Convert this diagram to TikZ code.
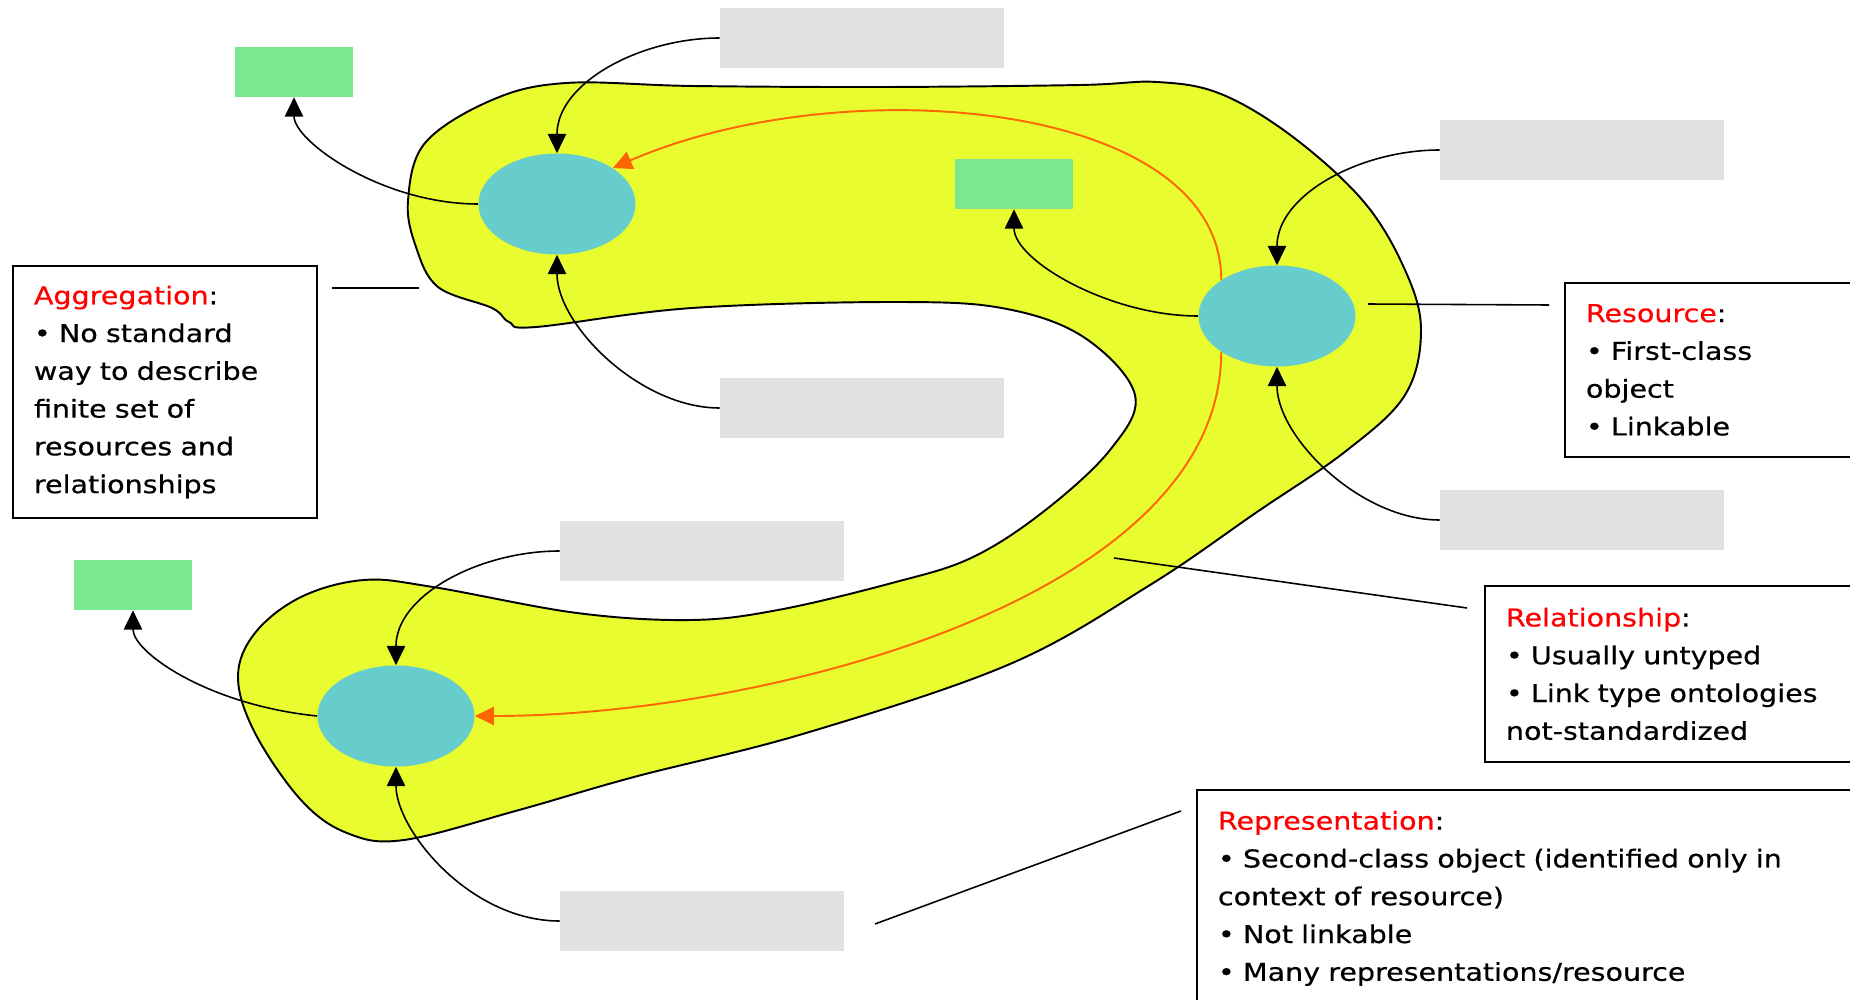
\documentclass[tikz,border=0pt]{standalone}
\usepackage{fontspec}
\setmainfont[FakeStretch=1.16, FakeBold=0.5]{DejaVu Sans}
\usetikzlibrary{arrows.meta, shapes.geometric}
\definecolor{blobyellow}{RGB}{232,252,48}
\definecolor{rescyan}{RGB}{102,204,204}
\definecolor{taggreen}{RGB}{122,232,143}
\definecolor{blankgray}{RGB}{225,225,225}
\definecolor{flowcolor}{RGB}{255,102,0}
\tikzset{
  blob/.style={fill=blobyellow, draw=black, line width=1.1pt},
  res/.style={ellipse, fill=rescyan, minimum width=3.14cm, minimum height=2.02cm, inner sep=0pt},
  tag/.style={fill=taggreen, minimum width=2.36cm, minimum height=1cm, inner sep=0pt},
  blank/.style={fill=blankgray, minimum width=5.68cm, minimum height=1.2cm, inner sep=0pt},
  link/.style={line width=0.9pt, -{Triangle[length=11pt,width=10.5pt]}},
  flow/.style={draw=flowcolor, line width=1.1pt, -{Triangle[length=11pt,width=10.5pt]}},
  pointer/.style={line width=0.9pt},
  note/.style={draw, line width=1.1pt, anchor=north west, align=left, inner xsep=0.42cm,
      inner ysep=0pt, font=\fontsize{14}{21.5}\selectfont},
}

\begin{document}
\begin{tikzpicture}[x=0.02cm, y=-0.02cm]
  \useasboundingbox (0,0) rectangle (1850,1000);
  \clip (0,0) rectangle (1850,1000);
  % web of resources
  \draw[blob] plot[smooth cycle, tension=0.6] coordinates {
    (408,201) (425,143) (492,100) (566,83) (693,86) (885,87) (1080,85) (1157,82)
    (1221,94) (1293,137) (1364,202) (1405,270) (1421,330) (1405,395) (1346,451)
    (1257,512) (1150,585) (1010,664) (806,733) (634,777) (519,810)
    (404,840) (347,833) (301,800) (255,733) (238,677) (255,633) (301,597)
    (364,580) (433,587) (577,613) (691,620) (778,610) (892,583) (971,558)
    (1043,512) (1110,450) (1135,395) (1085,338) (1007,309) (900,302)
    (692,308) (536,327) (509,322) (492,308) (438,287) (416,247)};

  % resources
  \node[res] (resA) at (557,204) {};
  \node[res] (resB) at (1277,316) {};
  \node[res] (resC) at (396,716) {};

  % identifiers
  \node[tag] (gA) at (294,72) {};
  \node[tag] (gB) at (1014,184) {};
  \node[tag] (gC) at (133,585) {};

  % empty slots
  \node[blank] (upA) at (862,38) {};
  \node[blank] (dnA) at (862,408) {};
  \node[blank] (upB) at (1582,150) {};
  \node[blank] (dnB) at (1582,520) {};
  \node[blank] (upC) at (702,551) {};
  \node[blank] (dnC) at (702,921) {};

  % links between resources
  \draw[flow] (resB.north west) .. controls +(0,-180) and +(230,-100) .. (resA.north east);
  \draw[flow] (resB.south west) .. controls +(0,248) and +(286,0) .. (resC.east);

  % arrows around each resource
  \draw[link] (resA.west) .. controls +(-96,0) and +(0,44) .. (gA.south);
  \draw[link] (upA.west) .. controls +(-80,0) and +(0,-70) .. (resA.north);
  \draw[link] (dnA.west) .. controls +(-80,0) and +(0,70) .. (resA.south);

  \draw[link] (resB.west) .. controls +(-89,0) and +(0,51) .. (gB.south);
  \draw[link] (upB.west) .. controls +(-80,0) and +(0,-70) .. (resB.north);
  \draw[link] (dnB.west) .. controls +(-80,0) and +(0,70) .. (resB.south);

  \draw[link] (resC.west) .. controls +(-109,-11) and +(0,42) .. (gC.south);
  \draw[link] (upC.west) .. controls +(-80,0) and +(0,-70) .. (resC.north);
  \draw[link] (dnC.west) .. controls +(-90,0) and +(0,63) .. (resC.south);

  % notes
  \node[note, text width=5.24cm, minimum height=5.04cm] (aggbox) at (12,265)
    {\textcolor{red}{Aggregation}:\\
     \textbullet\ No standard\\
     way to describe\\
     finite set of\\
     resources and\\
     relationships};
  \node[note, text width=8cm, minimum height=3.48cm] (resbox) at (1564,282)
    {\textcolor{red}{Resource}:\\
     \textbullet\ First-class\\
     object\\
     \textbullet\ Linkable};
  \node[note, text width=8cm, minimum height=3.52cm] (relbox) at (1484,585)
    {\textcolor{red}{Relationship}:\\
     \textbullet\ Usually untyped\\
     \textbullet\ Link type ontologies\\
     not-standardized};
  \node[note, text width=14cm, minimum height=4.34cm] (repbox) at (1196,789)
    {\textcolor{red}{Representation}:\\
     \textbullet\ Second-class object (identified only in\\
     context of resource)\\
     \textbullet\ Not linkable\\
     \textbullet\ Many representations/resource};

  % pointers from the notes
  \coordinate (aggA) at (332,288);
  \coordinate (aggB) at (419,288);
  \coordinate (resP) at (1368,304);
  \coordinate (resQ) at (1549,305);
  \coordinate (relP) at (1114,558);
  \coordinate (relQ) at (1467,608);
  \coordinate (repP) at (875,924);
  \coordinate (repQ) at (1181,811);
  \draw[pointer] (aggA) -- (aggB);
  \draw[pointer] (resP) -- (resQ);
  \draw[pointer] (relP) -- (relQ);
  \draw[pointer] (repP) -- (repQ);
\end{tikzpicture}
\end{document}
